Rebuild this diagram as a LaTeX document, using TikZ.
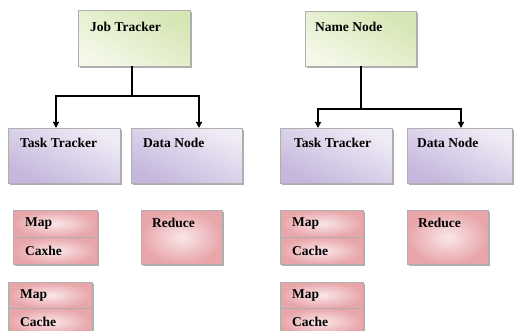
\documentclass[tikz,border=0pt]{standalone}
\usepackage{fontspec}
\setmainfont{Liberation Serif}
\usetikzlibrary{shadows,arrows.meta}
\definecolor{gD}{RGB}{214,230,180}
\definecolor{gL}{RGB}{244,248,232}
\definecolor{pD}{RGB}{196,182,220}
\definecolor{pL}{RGB}{240,236,246}
\definecolor{rD}{RGB}{232,166,170}
\definecolor{rL}{RGB}{250,230,232}
\definecolor{edge}{RGB}{175,175,175}
\tikzset{
  base/.style={rectangle, anchor=north west, inner sep=0pt, draw=edge, line width=0.4pt,
    drop shadow={shadow xshift=1.6pt, shadow yshift=-1.6pt, fill=black!45, opacity=0.7}},
  greenbox/.style={base, top color=gD, bottom color=gL, shading angle=-30},
  purplebox/.style={base, top color=pL, bottom color=pD, shading angle=-25},
  pinkbox/.style={base, inner color=rL, outer color=rD},
  cell/.style={pinkbox, minimum height=27pt, text width=60pt, inner xsep=12pt, align=left,
    font=\bfseries\fontsize{13.5}{15}\selectfont},
  lbl/.style={anchor=west, inner sep=0pt, font=\bfseries\fontsize{13.5}{15}\selectfont},
  conn/.style={line width=1.3pt, -{Triangle[length=6pt,width=6pt]}},
  wire/.style={line width=1.3pt}
}
\begin{document}
\begin{tikzpicture}[x=1pt,y=-1pt]
\useasboundingbox (0,0) rectangle (514,331);
% top boxes
\node[greenbox, minimum width=112pt, minimum height=56pt] (jt) at (78,10) {};
\node[lbl] (jtl) at ([xshift=12pt,yshift=-17pt]jt.north west) {Job Tracker};
\node[greenbox, minimum width=111pt, minimum height=55pt] (nn) at (305,11) {};
\node[lbl] (nnl) at ([xshift=10pt,yshift=-16pt]nn.north west) {Name Node};
% second row
\node[purplebox, minimum width=112pt, minimum height=55pt] (tt1) at (8,128) {};
\node[lbl] (tt1l) at ([xshift=12pt,yshift=-15pt]tt1.north west) {Task Tracker};
\node[purplebox, minimum width=111pt, minimum height=55pt] (dn1) at (131,128) {};
\node[lbl] (dn1l) at ([xshift=12pt,yshift=-15pt]dn1.north west) {Data Node};
\node[purplebox, minimum width=112pt, minimum height=55pt] (tt2) at (280,128) {};
\node[lbl] (tt2l) at ([xshift=14pt,yshift=-15pt]tt2.north west) {Task Tracker};
\node[purplebox, minimum width=105pt, minimum height=55pt] (dn2) at (407,128) {};
\node[lbl] (dn2l) at ([xshift=10pt,yshift=-15pt]dn2.north west) {Data Node};
% connectors left
\coordinate (jtj) at (132,96);
\draw[wire] (jt.south -| jtj) -- (jtj);
\draw[conn] (jtj) -| (56,128);
\draw[conn] (jtj) -| (199,128);
% connectors right
\coordinate (nnj) at (361,109);
\draw[wire] (nn.south -| nnj) -- (nnj);
\draw[conn] (nnj) -| (318,128);
\draw[conn] (nnj) -| (461,128);
% map / cache left
\node[cell, text width=60pt] (m1) at (13,210) {Map};
\node[cell, text width=60pt] (c1) at (13,237) {Caxhe};
\node[pinkbox, minimum width=81pt, minimum height=54pt] (r1) at (141,210) {};
\node[lbl] (r1l) at ([xshift=11pt,yshift=-13pt]r1.north west) {Reduce};
\node[cell, text width=60pt, minimum height=26pt] (m2) at (8,282) {Map};
\node[cell, text width=60pt] (c2) at (8,308) {Cache};
% map / cache right
\node[cell, text width=59pt] (m3) at (280,210) {Map};
\node[cell, text width=59pt] (c3) at (280,237) {Cache};
\node[pinkbox, minimum width=81pt, minimum height=54pt] (r2) at (407,210) {};
\node[lbl] (r2l) at ([xshift=11pt,yshift=-13pt]r2.north west) {Reduce};
\node[cell, text width=59pt, minimum height=26pt] (m4) at (280,282) {Map};
\node[cell, text width=59pt] (c4) at (280,308) {Cache};
\end{tikzpicture}
\end{document}
